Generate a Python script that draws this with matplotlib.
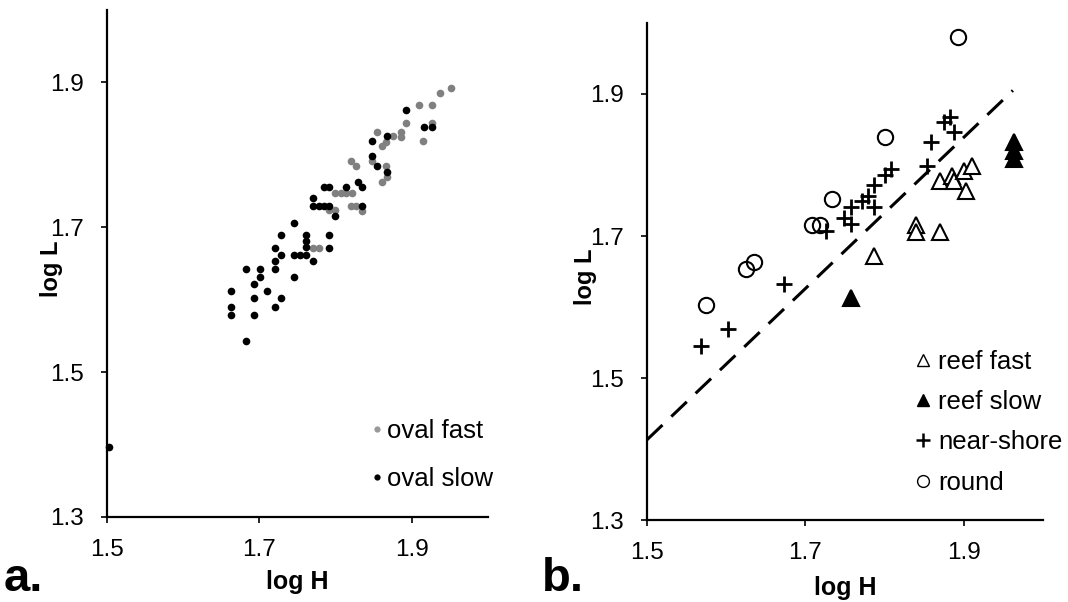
import matplotlib
matplotlib.use("Agg")
import matplotlib.pyplot as plt
from matplotlib.lines import Line2D

plt.rcParams['font.family'] = ['Liberation Sans', 'DejaVu Sans']

# panel a: oval shells
fast_x = [1.770, 1.778, 1.791, 1.799, 1.820, 1.827, 1.835, 1.799, 1.807, 1.814,
          1.821, 1.820, 1.827, 1.848, 1.952, 1.937, 1.910, 1.926, 1.892, 1.926,
          1.855, 1.886, 1.886, 1.875, 1.866, 1.861, 1.915, 1.866, 1.868, 1.861]
fast_y = [1.671, 1.671, 1.724, 1.724, 1.730, 1.730, 1.723, 1.747, 1.747, 1.747,
          1.747, 1.792, 1.784, 1.791, 1.892, 1.886, 1.869, 1.869, 1.844, 1.844,
          1.832, 1.832, 1.825, 1.826, 1.818, 1.812, 1.819, 1.784, 1.770, 1.762]
slow_x = [1.770, 1.770, 1.778, 1.785, 1.792, 1.835, 1.799, 1.745, 1.728, 1.761,
          1.792, 1.761, 1.761, 1.720, 1.792, 1.728, 1.745, 1.753, 1.761, 1.720,
          1.770, 1.683, 1.701, 1.720, 1.701, 1.745, 1.693, 1.663, 1.710, 1.693,
          1.728, 1.663, 1.720, 1.663, 1.693, 1.683, 1.503, 1.848, 1.848, 1.829,
          1.835, 1.785, 1.792, 1.814, 1.892, 1.916, 1.927, 1.868, 1.855, 1.868]
slow_y = [1.740, 1.730, 1.730, 1.730, 1.730, 1.730, 1.715, 1.706, 1.690, 1.690,
          1.690, 1.681, 1.673, 1.671, 1.671, 1.662, 1.662, 1.662, 1.662, 1.653,
          1.653, 1.643, 1.643, 1.643, 1.632, 1.632, 1.622, 1.612, 1.612, 1.602,
          1.602, 1.590, 1.590, 1.579, 1.579, 1.543, 1.397, 1.819, 1.798, 1.762,
          1.755, 1.755, 1.755, 1.755, 1.862, 1.838, 1.838, 1.826, 1.784, 1.777]

# panel b
reef_fast_x = [1.787, 1.840, 1.840, 1.870, 1.870, 1.885, 1.887, 1.900, 1.910, 1.903]
reef_fast_y = [1.672, 1.715, 1.706, 1.706, 1.777, 1.785, 1.777, 1.792, 1.799, 1.763]
reef_slow_x = [1.757, 1.963, 1.963, 1.963]
reef_slow_y = [1.612, 1.833, 1.820, 1.808]
shore_x = [1.568, 1.602, 1.673, 1.726, 1.749, 1.757, 1.757, 1.772, 1.779, 1.787,
           1.787, 1.801, 1.808, 1.853, 1.858, 1.875, 1.888, 1.882]
shore_y = [1.545, 1.569, 1.633, 1.707, 1.725, 1.717, 1.741, 1.750, 1.756, 1.772,
           1.741, 1.786, 1.794, 1.799, 1.833, 1.861, 1.846, 1.868]
round_x = [1.575, 1.625, 1.635, 1.708, 1.718, 1.733, 1.800, 1.893]
round_y = [1.603, 1.654, 1.663, 1.716, 1.716, 1.752, 1.839, 1.980]
fit_x = [1.5, 1.962]
fit_y = [1.413, 1.905]

ticks_x = [1.5, 1.7, 1.9]
ticks_y = [1.3, 1.5, 1.7, 1.9]

fig = plt.figure(figsize=(10.68, 6.02), dpi=100)
ax1 = fig.add_axes([0.1002, 0.1412, 0.3567, 0.8422])
ax2 = fig.add_axes([0.6058, 0.1362, 0.3708, 0.8256])

gray = '#808080'
ax1.plot(fast_x, fast_y, 'o', color=gray, ms=5.5, mew=0, clip_on=False)
ax1.plot(slow_x, slow_y, 'o', color='black', ms=5.5, mew=0, clip_on=False)

ax2.plot(fit_x, fit_y, color='black', lw=2.2, dashes=(7, 4))
ax2.plot(reef_fast_x, reef_fast_y, '^', mfc='white', mec='black', ms=11, mew=1.5)
ax2.plot(reef_slow_x, reef_slow_y, '^', color='black', ms=11, mew=1.5)
ax2.plot(shore_x, shore_y, '+', color='black', ms=11, mew=2)
ax2.plot(round_x, round_y, 'o', mfc='none', mec='black', ms=11, mew=1.5, clip_on=False)

for ax in (ax1, ax2):
    ax.set_xlim(1.5, 2.0)
    ax.set_ylim(1.3, 2.0)
    ax.set_xticks(ticks_x)
    ax.set_yticks(ticks_y)
    ax.spines['right'].set_visible(False)
    ax.spines['top'].set_visible(False)
    ax.spines['left'].set_linewidth(1.6)
    ax.spines['bottom'].set_linewidth(1.6)
    ax.tick_params(direction='out', length=4.5, width=1.2, labelsize=17.5)
    ax.tick_params(axis='x', pad=11)
    ax.tick_params(axis='y', pad=12)
    ax.set_xlabel('log H', fontsize=18, fontweight='bold')
    ax.set_ylabel('log L', fontsize=17, fontweight='bold')

ax1.xaxis.set_label_coords(0.5, -0.105)
ax1.yaxis.set_label_coords(-0.115, 0.49)
ax2.xaxis.set_label_coords(0.5, -0.112)
ax2.yaxis.set_label_coords(-0.125, 0.49)

h1 = [Line2D([], [], ls='', marker='o', color='#999999', ms=4.5, mew=0),
      Line2D([], [], ls='', marker='o', color='black', ms=4.5, mew=0)]
ax1.legend(h1, ['oval fast', 'oval slow'], loc='upper left', bbox_to_anchor=(0.695, 0.194),
           frameon=False, fontsize=18.5, handlelength=0.4, handletextpad=0.19,
           labelspacing=0.96, borderpad=0, borderaxespad=0)

h2 = [Line2D([], [], ls='', marker='^', mfc='white', mec='black', ms=9, mew=1),
      Line2D([], [], ls='', marker='^', color='black', ms=9),
      Line2D([], [], ls='', marker='+', color='black', ms=10, mew=1.8),
      Line2D([], [], ls='', marker='o', mfc='white', mec='black', ms=8.5, mew=1)]
ax2.legend(h2, ['reef fast', 'reef slow', 'near-shore', 'round'], loc='upper left',
           bbox_to_anchor=(0.6775, 0.343), frameon=False, fontsize=18.5, handlelength=0.6,
           handletextpad=0.3, labelspacing=0.64, borderpad=0, borderaxespad=0)

fig.text(0.003, 0.019, 'a.', fontsize=34, fontweight='bold')
fig.text(0.507, 0.019, 'b.', fontsize=34, fontweight='bold')

fig.savefig('out.png', dpi=100)
